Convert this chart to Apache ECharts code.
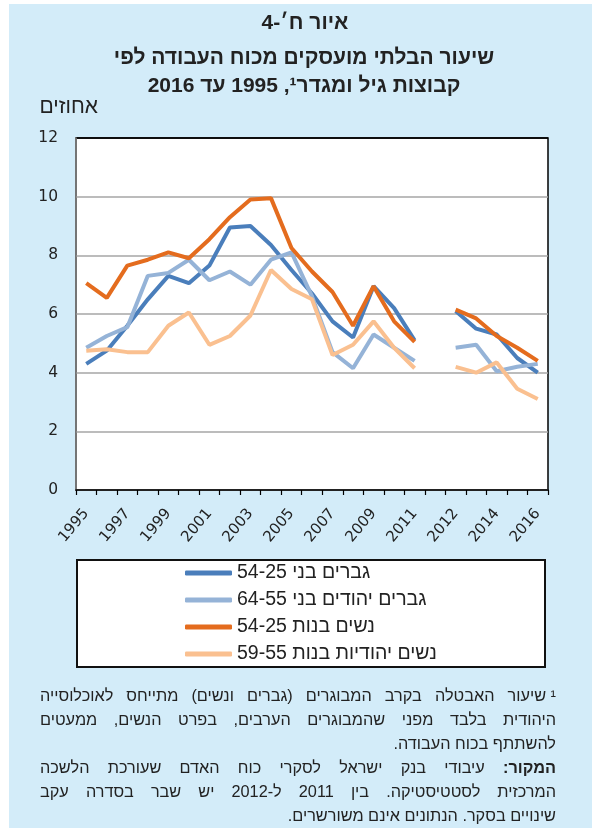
<!DOCTYPE html>
<html lang="he">
<head>
<meta charset="utf-8">
<script src="https://cdn.jsdelivr.net/npm/echarts@6/dist/echarts.min.js"></script>
<style>
  html, body { margin: 0; padding: 0; background: #fff; }
  #chart { width: 592px; height: 828px; direction: rtl; }
</style>
</head>
<body>
<div id="chart"></div>
<script>
// קטגוריות - שנים (עם רווח בין 2011 ל-2012 בגלל השבר בסדרה)
const years = ['1995', '1996', '1997', '1998', '1999', '2000', '2001', '2002', '2003', '2004',
  '2005', '2006', '2007', '2008', '2009', '2010', '2011', '', '2012', '2013', '2014', '2015', '2016'];

// גברים בני 25-54
const menPrime = [4.3, 4.75, 5.6, 6.5, 7.3, 7.05, 7.65, 8.95, 9.0, 8.35, 7.5, 6.7, 5.75, 5.2, 6.95, 6.2, 5.1,
  null, 6.1, 5.5, 5.3, 4.5, 4.0];
// גברים יהודים בני 55-64
const jewMenOld = [4.85, 5.25, 5.55, 7.3, 7.4, 7.85, 7.15, 7.45, 7.0, 7.85, 8.1, 6.6, 4.7, 4.15, 5.3, 4.85, 4.4,
  null, 4.85, 4.95, 4.05, 4.2, 4.3];
// נשים בנות 25-54
const womenPrime = [7.05, 6.55, 7.65, 7.85, 8.1, 7.9, 8.55, 9.3, 9.9, 9.95, 8.25, 7.45, 6.75, 5.6, 6.95, 5.75, 5.05,
  null, 6.15, 5.85, 5.25, 4.85, 4.4];
// נשים יהודיות בנות 55-59
const jewWomenOld = [4.75, 4.8, 4.7, 4.7, 5.6, 6.05, 4.95, 5.25, 5.95, 7.5, 6.85, 6.5, 4.6, 4.95, 5.75, 4.85, 4.15,
  null, 4.2, 4.0, 4.35, 3.45, 3.1];

const seriesNames = ['גברים בני 54-25', 'גברים יהודים בני 64-55', 'נשים בנות 54-25', 'נשים יהודיות בנות 59-55'];
const seriesColors = ['#4a7ebb', '#95b3d7', '#e46c1e', '#fac090'];

const titleLines = ['איור ח׳-4', 'שיעור הבלתי מועסקים מכוח העבודה לפי', 'קבוצות גיל ומגדר¹, 1995 עד 2016'];
// שורות ההערה: [טקסט, ליישר לשני הצדדים?]
const noteLines = [
  ['¹\u00a0שיעור האבטלה בקרב המבוגרים (גברים ונשים) מתייחס לאוכלוסייה', true],
  ['היהודית בלבד מפני שהמבוגרים הערבים, בפרט הנשים, ממעטים', true],
  ['להשתתף בכוח העבודה.', false],
  ['המקור: עיבודי בנק ישראל לסקרי כוח האדם שעורכת הלשכה', true],
  ['המרכזית לסטטיסטיקה. בין 2011 ל-2012 יש שבר בסדרה עקב', true],
  ['שינויים בסקר. הנתונים אינם משורשרים.', false]
];

const FONT = '"Liberation Sans", "DejaVu Sans", sans-serif';
const NOTE_SIZE = 16.3;
const myChart = echarts.init(document.getElementById('chart'));

// מדידת רוחב טקסט לצורך יישור
const mctx = document.createElement('canvas').getContext('2d');
function measure(text, font) {
  mctx.font = font;
  return mctx.measureText(text).width;
}

function txt(text, x, y, size, align, bold) {
  return {
    type: 'text',
    style: {
      text: text, x: x, y: y,
      font: (bold ? 'bold ' : '') + size + 'px ' + FONT,
      fill: '#222',
      textAlign: align, align: align,
      textVerticalAlign: 'middle', verticalAlign: 'middle'
    }
  };
}

const graphics = [
  // פסים לבנים בשוליים
  { type: 'rect', shape: { x: 0, y: 0, width: 592, height: 4 }, style: { fill: '#fff' } },
  { type: 'rect', shape: { x: 0, y: 0, width: 9, height: 828 }, style: { fill: '#fff' } },
  // מסגרת המקרא
  { type: 'rect', shape: { x: 77, y: 560, width: 468, height: 107 }, style: { fill: '#fff', stroke: '#111', lineWidth: 2 } },
  txt(titleLines[0], 305, 23, 21, 'center', true),
  txt(titleLines[1], 304, 58, 21, 'center', true),
  txt(titleLines[2], 304, 86, 21, 'center', true),
  txt('אחוזים', 98, 107, 21, 'right', false)
];

// הערות שוליים - מימין לשמאל, עם יישור לשני הצדדים
const noteY = [697, 721, 745, 769, 793, 817];
const noteRight = 556, noteLeft = 40;
noteLines.forEach(([line, justify], i) => {
  const words = line.split(' ');
  const fonts = words.map((w, j) => (i === 3 && j === 0 ? 'bold ' : '') + NOTE_SIZE + 'px ' + FONT);
  const widths = words.map((w, j) => measure(w, fonts[j]));
  const total = widths.reduce((a, b) => a + b, 0);
  const gap = justify ? (noteRight - noteLeft - total) / (words.length - 1) : measure(' ', fonts[0]);
  let x = noteRight;
  words.forEach((w, j) => {
    graphics.push({
      type: 'text',
      style: {
        text: w, x: x, y: noteY[i], font: fonts[j], fill: '#222',
        textAlign: 'right', align: 'right',
        textVerticalAlign: 'middle', verticalAlign: 'middle'
      }
    });
    x -= widths[j] + gap;
  });
});

const option = {
  backgroundColor: '#d3ecf9',
  animation: false,
  graphic: { elements: graphics },
  legend: {
    orient: 'vertical',
    left: 185,
    top: 563,
    padding: 0,
    itemWidth: 47,
    itemHeight: 5,
    itemGap: 7,
    icon: 'roundRect',
    data: seriesNames,
    textStyle: { fontSize: 19.5, fontFamily: FONT, color: '#222' }
  },
  grid: {
    left: 76, right: 44, top: 138, bottom: 338,
    show: true, backgroundColor: '#fff', borderColor: '#000', borderWidth: 1.5
  },
  xAxis: {
    type: 'category',
    data: years,
    boundaryGap: true,
    axisLine: { lineStyle: { color: '#000', width: 1.5 } },
    axisTick: { show: true, interval: 0, length: 5, lineStyle: { color: '#000', width: 1.2 } },
    axisLabel: { interval: 1, rotate: 50, margin: 21, fontSize: 15, color: '#222', fontFamily: 'DejaVu Sans' },
    splitLine: { show: false }
  },
  yAxis: {
    type: 'value',
    min: 0, max: 12, interval: 2,
    axisLine: { show: true, lineStyle: { color: '#888', width: 1.5 } },
    axisTick: { show: false },
    axisLabel: { margin: 18, fontSize: 15.5, color: '#222', fontFamily: 'DejaVu Sans' },
    splitLine: {
      lineStyle: {
        color: ['#a6a6a6', '#a6a6a6', '#a6a6a6', '#a6a6a6', '#a6a6a6', '#a6a6a6', '#000'],
        width: 1.5
      }
    }
  },
  series: [menPrime, jewMenOld, womenPrime, jewWomenOld].map((d, i) => ({
    name: seriesNames[i],
    type: 'line',
    data: d,
    symbol: 'none',
    connectNulls: false,
    color: seriesColors[i],
    lineStyle: { width: 4, color: seriesColors[i] }
  }))
};

myChart.setOption(option);
</script>
</body>
</html>
